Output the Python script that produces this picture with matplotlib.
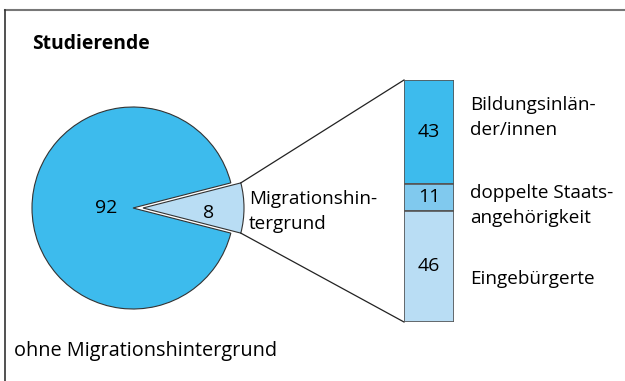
import numpy as np
import matplotlib.pyplot as plt

plt.rcParams['font.family'] = ['Open Sans', 'DejaVu Sans']

# Studierende: mit / ohne Migrationshintergrund (in %)
pie_labels = ['Migrationshin-\ntergrund', 'ohne Migrationshintergrund']
pie_vals = [8, 92]
# Aufteilung der Studierenden mit Migrationshintergrund (in %)
bar_labels = ['Bildungsinlän-\nder/innen', 'doppelte Staats-\nangehörigkeit', 'Eingebürgerte']
bar_vals = [43, 11, 46]

blue = '#3dbbed'
mid = '#80c9ee'
light = '#b9ddf4'
edge = '#333333'

fig = plt.figure(figsize=(6.25, 3.81), dpi=100)
ax = fig.add_axes([0, 0, 1, 1])

# pie, drawn in pixel-like data units
cx, cy, r = 133, 208, 101
wedges, _ = ax.pie(pie_vals, colors=[light, blue], startangle=-pie_vals[0] / 100 * 180,
                   center=(cx, cy), radius=r, explode=[10, 0], frame=True,
                   wedgeprops=dict(edgecolor=edge, linewidth=0.8))
ax.set_xlim(0, 625)
ax.set_ylim(381, 0)
ax.axis('off')

fs = 13.6
nfs = 14
ls = 1.5
# va='baseline' on multi-line text aligns the last line's baseline
ax.text(106, 213, str(pie_vals[1]), ha='center', va='baseline', fontsize=nfs)
ax.text(209, 218, str(pie_vals[0]), ha='center', va='baseline', fontsize=nfs)
ax.text(249, 229, pie_labels[0], ha='left', va='baseline', fontsize=fs, linespacing=ls)
ax.text(14, 356, pie_labels[1], ha='left', va='baseline', fontsize=14.3)
ax.text(32, 49, 'Studierende', ha='left', va='baseline', fontsize=13.9, fontweight='bold')

# stacked bar
bx0, bx1, by0, by1 = 404, 454, 80, 322
ax2 = fig.add_axes([bx0 / 625, 1 - by1 / 381, (bx1 - bx0) / 625, (by1 - by0) / 381])
bottoms = np.concatenate([[0], np.cumsum(bar_vals)[:-1]])
ax2.bar(0, bar_vals, bottom=bottoms, width=1, color=[blue, mid, light],
        edgecolor='#555555', linewidth=1.2)
ax2.set_xlim(-0.5, 0.5)
ax2.set_ylim(100, 0)
ax2.axis('off')
for v, b in zip(bar_vals, bottoms):
    ax2.text(0, b + v / 2, str(v), ha='center', va='center', fontsize=nfs)

label_base = [135, 223, 284]
for lab, y in zip(bar_labels, label_base):
    ax.text(470, y, lab, ha='left', va='baseline', fontsize=fs, linespacing=ls)

# connector lines from exploded wedge to bar (y axis inverted: theta1 is the upper edge)
w = wedges[0]
wx, wy = w.center
for ang, by in [(w.theta1, by0), (w.theta2, by1)]:
    px = wx + w.r * np.cos(np.radians(ang))
    py = wy + w.r * np.sin(np.radians(ang))
    ax.plot([px, bx0], [py, by], color='#222222', lw=0.9)

# frame
ax.plot([5, 625], [10, 10], color='#777777', lw=1.5, clip_on=False)
ax.plot([5, 5], [10, 381], color='#333333', lw=1.2, clip_on=False)

fig.savefig('out.png', dpi=100)
